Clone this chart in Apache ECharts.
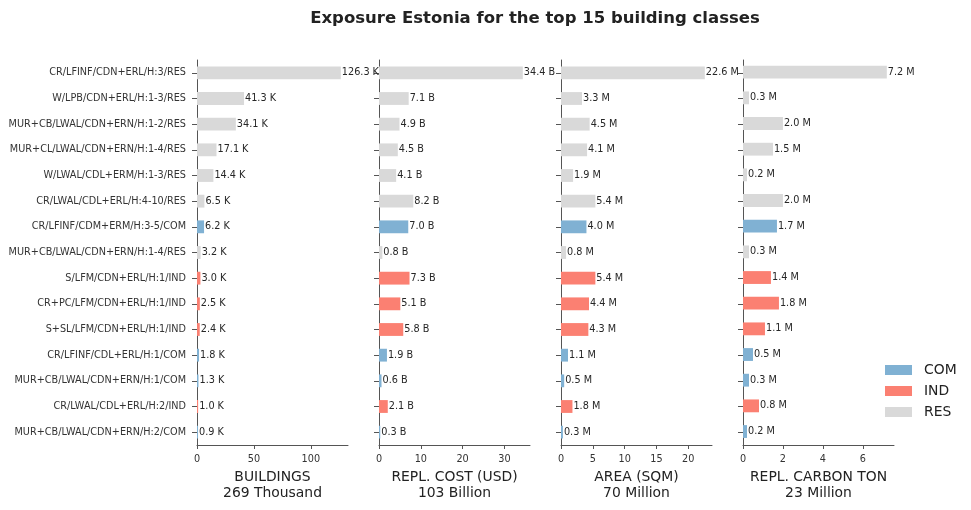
<!DOCTYPE html>
<html lang="en">

<head>
    <meta charset="UTF-8">
    <title>Exposure Estonia</title>
    <script src="https://cdn.jsdelivr.net/npm/echarts@6.0.0/dist/echarts.min.js"></script>
    <style>
        body { margin: 0; background: #fff; }
    </style>
</head>

<body>
    <div id="main" style="width: 971px;height:510px;"></div>
    <script type="text/javascript">
        // building classes, top to bottom
        const categories = [
            'CR/LFINF/CDN+ERL/H:3/RES', 'W/LPB/CDN+ERL/H:1-3/RES', 'MUR+CB/LWAL/CDN+ERN/H:1-2/RES',
            'MUR+CL/LWAL/CDN+ERN/H:1-4/RES', 'W/LWAL/CDL+ERM/H:1-3/RES', 'CR/LWAL/CDL+ERL/H:4-10/RES',
            'CR/LFINF/CDM+ERM/H:3-5/COM', 'MUR+CB/LWAL/CDN+ERN/H:1-4/RES', 'S/LFM/CDN+ERL/H:1/IND',
            'CR+PC/LFM/CDN+ERL/H:1/IND', 'S+SL/LFM/CDN+ERL/H:1/IND', 'CR/LFINF/CDL+ERL/H:1/COM',
            'MUR+CB/LWAL/CDN+ERN/H:1/COM', 'CR/LWAL/CDL+ERL/H:2/IND', 'MUR+CB/LWAL/CDN+ERN/H:2/COM'
        ];
        const occupancies = ['COM', 'IND', 'RES'];
        const occColors = { COM: '#80b1d3', IND: '#fb8072', RES: '#d9d9d9' };

        // values per panel
        const buildings = [126.3, 41.3, 34.1, 17.1, 14.4, 6.5, 6.2, 3.2, 3.0, 2.5, 2.4, 1.8, 1.3, 1.0, 0.9];
        const replCost = [34.4, 7.1, 4.9, 4.5, 4.1, 8.2, 7.0, 0.8, 7.3, 5.1, 5.8, 1.9, 0.6, 2.1, 0.3];
        const area = [22.6, 3.3, 4.5, 4.1, 1.9, 5.4, 4.0, 0.8, 5.4, 4.4, 4.3, 1.1, 0.5, 1.8, 0.3];
        const carbon = [7.2, 0.3, 2.0, 1.5, 0.2, 2.0, 1.7, 0.3, 1.4, 1.8, 1.1, 0.5, 0.3, 0.8, 0.2];

        const panelNames = ['BUILDINGS', 'REPL. COST (USD)', 'AREA (SQM)', 'REPL. CARBON TON'];
        const panelTotals = ['269 Thousand', '103 Billion', '70 Million', '23 Million'];
        const panelUnits = ['K', 'B', 'M', 'M'];
        const panelTicks = [[0, 50, 100], [0, 10, 20, 30], [0, 5, 10, 15, 20], [0, 2, 4, 6]];
        const panelValues = [buildings, replCost, area, carbon];

        const font = 'DejaVu Sans';
        const axisColor = '#555';
        const gridLefts = [197, 379, 561, 743];

        // occupancy is the last part of the class name
        const occOf = name => name.split('/').pop();

        let grid = [], xAxis = [], yAxis = [], series = [];
        panelValues.forEach((vals, i) => {
            grid.push({ left: gridLefts[i], width: 151, top: 60, bottom: 65 });
            xAxis.push({
                gridIndex: i, type: 'value', min: 0, max: Math.max(...vals) * 1.05,
                name: panelNames[i] + '\n' + panelTotals[i], nameLocation: 'middle', nameGap: 24,
                nameTextStyle: { fontFamily: font, fontSize: 13.9, color: '#222', lineHeight: 16 },
                axisLine: { show: true, lineStyle: { color: axisColor } },
                axisTick: { show: true, length: 4, customValues: panelTicks[i], lineStyle: { color: axisColor } },
                axisLabel: { customValues: panelTicks[i], fontFamily: font, fontSize: 9.7, color: '#333', margin: 9 },
                splitLine: { show: false }
            });
            yAxis.push({
                gridIndex: i, type: 'category', data: categories, inverse: true,
                axisLine: { show: true, lineStyle: { color: axisColor } },
                axisTick: { show: true, alignWithLabel: true, length: 5, lineStyle: { color: axisColor } },
                axisLabel: { show: i === 0, fontFamily: font, fontSize: 9.7, color: '#333', margin: 11 }
            });
            series.push({
                type: 'bar', xAxisIndex: i, yAxisIndex: i, barWidth: '50%',
                data: vals.map((v, k) => ({ value: v, itemStyle: { color: occColors[occOf(categories[k])] } })),
                label: {
                    show: true, position: 'right', distance: 1, fontFamily: font, fontSize: 9.7, color: '#262626',
                    formatter: p => p.value.toFixed(1) + ' ' + panelUnits[i]
                },
                z: 3
            });
        });

        // legend-only series
        occupancies.forEach(o => {
            series.push({ name: o, type: 'bar', xAxisIndex: 3, yAxisIndex: 3, data: [], itemStyle: { color: occColors[o] } });
        });

        let options = {
            animation: false,
            title: {
                text: 'Exposure Estonia for the top 15 building classes', left: 530, textAlign: 'center', top: 5,
                textStyle: { fontFamily: font, fontSize: 16.5, fontWeight: 'bold', color: '#222' }
            },
            legend: {
                data: occupancies, orient: 'vertical', left: 880, top: 358, itemWidth: 27, itemHeight: 10, itemGap: 7,
                icon: 'rect', textStyle: { fontFamily: font, fontSize: 13.9, color: '#222', padding: [0, 0, 0, 7] }
            },
            grid: grid,
            xAxis: xAxis,
            yAxis: yAxis,
            series: series
        };

        let myChart = echarts.init(document.getElementById('main'));
        myChart.setOption(options);
    </script>
</body>

</html>
